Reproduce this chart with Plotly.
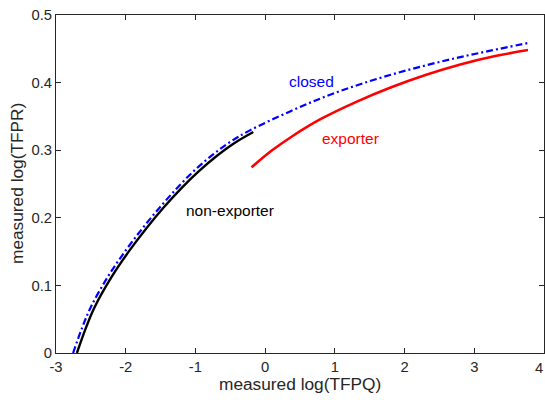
import plotly.graph_objects as go

# --- data ---
nonexp_x = [-2.70, -2.575, -2.45, -2.20, -1.95, -1.70, -1.45, -1.20, -0.95, -0.70, -0.45, -0.17]
nonexp_y = [0.000, 0.036, 0.067, 0.113, 0.151, 0.185, 0.216, 0.244, 0.269, 0.291, 0.310, 0.327]

closed_x = [-2.755, -2.63, -2.505, -2.255, -2.005, -1.755, -1.505, -1.255, -1.005, -0.755,
            -0.505, -0.225, 0.35, 0.83, 1.31, 1.79, 2.27, 2.75, 3.23, 3.76]
closed_y = [0.000, 0.036, 0.067, 0.113, 0.151, 0.185, 0.216, 0.245, 0.271, 0.293,
            0.312, 0.329, 0.357, 0.378, 0.3958, 0.4112, 0.4246, 0.4366, 0.4472, 0.4583]

exp_x = [-0.196, 0.10, 0.40, 0.80, 1.30, 1.80, 2.30, 2.80, 3.30, 3.77]
exp_y = [0.2746, 0.2998, 0.3214, 0.3462, 0.3712, 0.3927, 0.4112, 0.4267, 0.4392, 0.4481]

x_ticks = [-3, -2, -1, 0, 1, 2, 3, 4]
x_ticklabels = ["-3", "-2", "-1", "0", "1", "2", "3", ""]
last_x_label = "4"
y_ticks = [0, 0.1, 0.2, 0.3, 0.4, 0.5]
y_ticklabels = ["0", "0.1", "0.2", "0.3", "0.4", "0.5"]

labels = ["closed", "exporter", "non-exporter"]
label_x = [0.31, 0.79, -1.16]
label_y = [0.401, 0.318, 0.2115]
label_colors = ["#0000ff", "#ff0000", "#000000"]

FONT = "Liberation Sans, Arial, sans-serif"
AXC = "#262626"
TICK = 14.8

fig = go.Figure()
fig.add_trace(go.Scatter(x=nonexp_x, y=nonexp_y, mode="lines", line_shape="spline",
                         line=dict(color="#000000", width=2.4), showlegend=False))
fig.add_trace(go.Scatter(x=closed_x, y=closed_y, mode="lines", line_shape="spline",
                         line=dict(color="#0000ff", width=2.2, dash="7px,3px,2px,3px"),
                         showlegend=False))
fig.add_trace(go.Scatter(x=exp_x, y=exp_y, mode="lines", line_shape="spline",
                         line=dict(color="#ff0000", width=2.6), showlegend=False))

for t, lx, ly, c in zip(labels, label_x, label_y, label_colors):
    fig.add_annotation(x=lx, y=ly, xref="x", yref="y", text=t, showarrow=False,
                       xanchor="left", yanchor="middle",
                       font=dict(family=FONT, size=15.5, color=c))

# last x tick label, kept inside the page at its right edge
fig.add_annotation(x=x_ticks[-1], y=0, xref="x", yref="paper", text=last_x_label,
                   showarrow=False, xanchor="right", yanchor="middle", yshift=-15,
                   xshift=1, font=dict(family=FONT, size=TICK, color=AXC))

fig.add_annotation(x=0.5, y=0, xref="paper", yref="paper", text="measured log(TFPQ)",
                   showarrow=False, xanchor="center", yanchor="middle", yshift=-31,
                   font=dict(family=FONT, size=17.3, color=AXC))
fig.add_annotation(x=0, y=0.5, xref="paper", yref="paper", text="measured log(TFPR)",
                   showarrow=False, xanchor="center", yanchor="middle", xshift=-39,
                   textangle=-90, font=dict(family=FONT, size=17.3, color=AXC))

fig.update_layout(
    width=545, height=400,
    margin=dict(l=56, r=1, t=15, b=47),
    paper_bgcolor="white", plot_bgcolor="white",
    font=dict(family=FONT, size=TICK, color=AXC),
    xaxis=dict(range=[-3, 4], tickvals=x_ticks, ticktext=x_ticklabels,
               ticks="inside", ticklen=5,
               tickcolor=AXC, showline=True, linecolor=AXC, linewidth=1,
               mirror="ticks", showgrid=False, zeroline=False,
               tickfont=dict(family=FONT, size=TICK, color=AXC)),
    yaxis=dict(range=[0, 0.5], tickvals=y_ticks, ticktext=y_ticklabels,
               ticks="inside", ticklen=5, tickcolor=AXC, showline=True,
               linecolor=AXC, linewidth=1, mirror="ticks", showgrid=False,
               zeroline=False, tickfont=dict(family=FONT, size=TICK, color=AXC)),
)

fig.write_html("out.html")
